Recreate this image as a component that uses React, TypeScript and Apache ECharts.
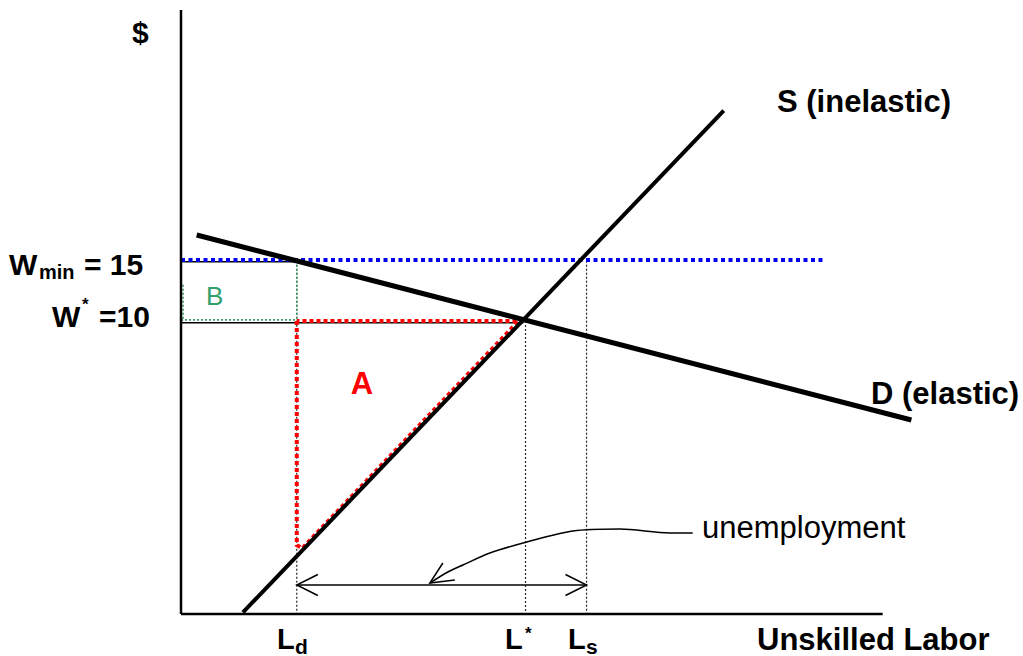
import React, { useEffect, useRef } from "react";
import * as echarts from "echarts";

// ---- data (abstract units: x = labour quantity, y = wage) ----
const X_MAX = 120;
const Y_MAX = 100;
const X_AXIS_END = 100;
const Y_AXIS_END = 100;

const SUPPLY: number[][] = [
  [8.83, 0.28],
  [77.35, 83.33],
];
const DEMAND: number[][] = [
  [2.24, 62.75],
  [104.09, 32.12],
];

const W_STAR = 48.5;
const W_MIN = 58.5;
const L_D = 16.5;
const L_STAR = 49.1;
const L_S = 57.8;
const W_STAR_END = 48.8;
const BLUE_END = 91.9;

const RED_TRIANGLE: number[][] = [
  [L_D, W_STAR],
  [L_D, 11.4],
  [17.3, 10.9],
  [48.1, W_STAR],
  [L_D, W_STAR],
];

const ARROW_Y = 4.8;
const ARROW_DX = 3.0;
const ARROW_DY = 1.74;

const UNEMP_CURVE: number[][] = [
  [35.47, 5.13],
  [38.03, 6.95],
  [40.17, 8.11],
  [44.02, 10.1],
  [49.29, 11.92],
  [55.84, 13.74],
  [62.54, 14.07],
  [69.66, 13.41],
  [72.93, 13.41],
];
const UNEMP_HEAD: number[][] = [
  [37.32, 8.44],
  [35.47, 5.13],
  [39.03, 5.63],
];

const FONT = '"Liberation Sans", Arial, sans-serif';

function lineSeries(data: number[][], style: any, z = 2, smooth: any = false) {
  return {
    type: "line",
    data,
    symbol: "none",
    silent: true,
    clip: false,
    smooth,
    z,
    lineStyle: { cap: "butt", join: "miter", ...style },
  };
}

function txt(
  x: number,
  y: number,
  text: string,
  size: number,
  opts: { bold?: boolean; fill?: string; align?: string } = {}
) {
  const align = opts.align || "left";
  return {
    type: "text",
    x,
    y,
    silent: true,
    z: 100,
    style: {
      text,
      fontSize: size,
      fontWeight: opts.bold === false ? "normal" : "bold",
      fontFamily: FONT,
      fill: opts.fill || "#000",
      align,
      textAlign: align,
      verticalAlign: "middle",
      textVerticalAlign: "middle",
    },
  };
}

export default function App() {
  const ref = useRef<HTMLDivElement>(null);

  useEffect(() => {
    if (!ref.current) return;
    const chart = echarts.init(ref.current, null, { renderer: "svg" });

    const thinDot = { color: "#222", width: 1.2, type: [2, 2] };
    const greenDot = { color: "#3f9a6a", width: 1.6, type: [2, 2] };
    const redDot = { color: "#ff0000", width: 4, type: [4, 3] };
    const blueDot = { color: "#0000ee", width: 4, type: [4, 3.5] };

    const series: any[] = [
      // axes
      lineSeries([[0, 0], [X_AXIS_END, 0]], { color: "#000", width: 2.5 }, 5),
      lineSeries([[0, 0], [0, Y_AXIS_END]], { color: "#000", width: 2.5 }, 5),
      // thin black guide lines
      lineSeries([[0, W_MIN - 0.2], [L_D, W_MIN - 0.2]], { color: "#000", width: 1.5 }, 2),
      lineSeries([[0, W_STAR - 0.3], [W_STAR_END, W_STAR - 0.3]], { color: "#000", width: 1.5 }, 2),
      lineSeries([[L_D, W_MIN], [L_D, 0]], thinDot, 2),
      lineSeries([[L_STAR, W_STAR], [L_STAR, 0]], thinDot, 2),
      lineSeries([[L_S, W_MIN], [L_S, 0]], thinDot, 2),
      // area B (green)
      lineSeries([[0, W_STAR + 0.2], [L_D, W_STAR + 0.2]], greenDot, 3),
      lineSeries([[L_D, W_MIN], [L_D, W_STAR]], greenDot, 3),
      lineSeries([[0.3, W_MIN - 4], [0.3, W_STAR]], greenDot, 3),
      // area A (red)
      lineSeries(RED_TRIANGLE, redDot, 4),
      // minimum wage
      lineSeries([[0, W_MIN + 0.1], [BLUE_END, W_MIN + 0.1]], blueDot, 4),
      // supply & demand
      lineSeries(SUPPLY, { color: "#000", width: 4 }, 6),
      lineSeries(DEMAND, { color: "#000", width: 5.2 }, 6),
      // unemployment double arrow
      lineSeries([[L_D, ARROW_Y], [L_S, ARROW_Y]], { color: "#000", width: 1.5 }, 6),
      lineSeries(
        [
          [L_D + ARROW_DX, ARROW_Y + ARROW_DY],
          [L_D, ARROW_Y],
          [L_D + ARROW_DX, ARROW_Y - ARROW_DY],
        ],
        { color: "#000", width: 1.5 },
        6
      ),
      lineSeries(
        [
          [L_S - ARROW_DX, ARROW_Y + ARROW_DY],
          [L_S, ARROW_Y],
          [L_S - ARROW_DX, ARROW_Y - ARROW_DY],
        ],
        { color: "#000", width: 1.5 },
        6
      ),
      // unemployment pointer
      lineSeries(UNEMP_CURVE, { color: "#000", width: 1.5 }, 6, 0.3),
      lineSeries(UNEMP_HEAD, { color: "#000", width: 1.5 }, 6),
    ];

    const graphic: any[] = [
      txt(132, 32, "$", 30),
      // W min = 15
      txt(9, 264.5, "W", 30),
      txt(39, 272, "min", 20),
      txt(84, 264.5, "= 15", 30),
      // W* =10
      txt(52, 316.5, "W", 30),
      txt(82, 304, "*", 17),
      txt(99, 316.5, "=10", 30),
      // area labels
      txt(206, 296, "B", 26, { bold: false, fill: "#33a06b" }),
      txt(362, 383, "A", 31, { fill: "#ff0000", align: "center" }),
      // curve labels
      txt(777, 101.5, "S (inelastic)", 31),
      txt(871, 393.5, "D (elastic)", 31),
      txt(702, 527, "unemployment", 31, { bold: false }),
      // x labels
      txt(277, 638.5, "L", 29),
      txt(295, 646, "d", 21),
      txt(505, 638.5, "L", 29),
      txt(525, 633, "*", 17),
      txt(568, 638.5, "L", 29),
      txt(586, 646, "s", 21),
      txt(757, 639.5, "Unskilled Labor", 31),
    ];

    chart.setOption({
      animation: false,
      backgroundColor: "#ffffff",
      grid: { left: 181, top: 10, width: 842.4, height: 604, containLabel: false },
      xAxis: { type: "value", min: 0, max: X_MAX, show: false },
      yAxis: { type: "value", min: 0, max: Y_MAX, show: false },
      series,
      graphic,
    });

    return () => chart.dispose();
  }, []);

  return (
    <div
      ref={ref}
      style={{ position: "absolute", left: 0, top: 0, width: 1023, height: 656 }}
    />
  );
}
